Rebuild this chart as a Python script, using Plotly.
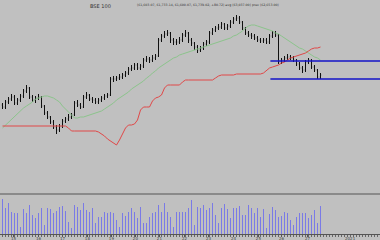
import plotly.graph_objects as go

# ---------------- data ----------------
idx = list(range(107))

opens = [535,533,538,541,543,537,540,544,549,552, 543,540,542,543,534,527,523,518,513,510,
         514,519,521,523,525,537,535,533,543,545, 541,540,538,540,542,544,545,561,561,562,
         563,565,567,571,572,575,572,574,580,581, 580,582,584,600,604,606,607,600,598,598,
         600,605,607,600,597,593,590,592,596,598, 607,610,612,613,616,612,614,618,621,622,
         618,612,607,605,604,602,600,599,600,598, 604,607,605,578,580,582,583,582,580,576,
         572,570,578,580,573,570,563]
closes = [533,538,541,543,537,540,544,549,552,543, 540,542,543,534,527,523,518,513,510,514,
          519,521,523,525,537,535,533,543,545,541, 540,538,540,542,544,545,561,561,562,563,
          565,567,571,572,575,572,574,580,581,580, 582,584,600,604,606,607,600,598,598,600,
          605,607,600,597,593,590,592,596,598,607, 610,612,613,616,612,614,618,621,622,618,
          612,607,605,604,602,600,599,600,598,604, 607,605,578,580,582,583,582,580,576,572,
          570,578,580,573,570,563,565]
highs = [537,540,543,546,545,542,546,551,555,553, 545,544,546,544,535,529,524,520,515,516,
         521,523,526,527,539,540,537,545,548,546, 543,542,542,544,546,547,563,564,564,566,
         567,569,573,575,577,577,576,582,584,583, 585,586,602,606,609,610,608,602,601,603,
         607,610,608,602,598,595,594,598,600,609, 612,614,616,618,617,616,620,623,625,624,
         619,613,609,607,606,604,602,602,602,606, 609,609,606,582,584,586,585,584,581,578,
         574,580,582,581,575,571,567]
lows = [531,531,536,539,535,535,538,542,547,541, 538,537,540,532,525,521,516,511,506,508,
        512,517,519,521,524,533,531,532,541,539, 537,536,536,538,540,542,544,558,559,560,
        561,563,565,569,570,570,570,572,578,577, 578,580,583,598,602,604,597,595,595,596,
        598,603,597,594,590,587,588,590,594,596, 605,608,610,611,610,610,612,616,619,616,
        610,605,603,601,600,598,597,597,596,596, 602,603,576,576,578,580,580,578,574,570,
        567,568,576,571,568,561,561]

ma = [512,515,518,521,524,527,529,532,534,536, 538,541,542,543,544,544,543,542,540,538,
      534,531,527,524,522,522,523,523,524,525, 526,527,528,529,531,533,535,537,540,542,
      544,546,548,551,553,555,557,559,562,564, 567,569,572,574,576,578,580,582,583,585,
      586,587,588,589,590,591,592,593,594,595, 596,597,598,599,600,601,602,604,605,607,
      609,612,614,615,615,614,613,612,611,610, 609,607,606,604,602,600,598,596,594,592,
      591,589,587,585,583,582,580]

stop = [514,514,514,514,514,514,514,514,514,514, 514,514,514,514,514,514,514,514,514,514,
        514,514,512,509,509,509,509,509,509,509, 509,509,508,506,504,501,499,497,495,500,
        506,512,515,515,516,520,530,533,533,533, 539,542,543,545,552,555,555,555,555,555,
        558,560,560,560,560,560,560,560,560,560, 560,562,564,565,565,565,565,565,566,566,
        566,566,566,566,566,566,566,567,570,572, 573,574,575,577,578,580,582,583,584,585,
        586,587,589,591,592,592,593]

volume = [35,26,31,22,21,21,7,25,21,29, 19,16,21,26,9,26,25,21,23,27,
          28,23,12,6,29,27,24,31,24,22, 26,11,17,17,22,21,22,21,14,7,
          21,18,22,26,22,16,27,11,11,17, 21,22,29,22,31,22,17,7,22,22,
          22,22,26,34,9,27,26,29,24,26, 31,19,11,26,30,25,16,26,26,28,
          19,19,29,26,21,26,17,25,6,20, 27,24,17,18,22,21,14,9,17,21,
          21,21,16,19,24,11,28]

levels = [579, 561]
level_start = 89.3

tick_pos = [3.7, 12, 20, 28.3, 36.3, 44.3, 52.3, 60.7, 68.7, 77, 85.3, 93, 101.7]
tick_text = ["15", "16", "17", "18", "19", "20", "21", "22", "23", "24", "25", "26", "27"]
year_pos = 116
year_text = "2021"

title_left = "BSE 100"
title_right = "(61,603.07, 61,733.14, 61,600.07, 61,739.02, +80.72) avg (63,037.00) prev (62,653.00)"

# ---------------- figure ----------------
BG = "#c0c0c0"
XR = [-0.8333, 125.8333]
fig = go.Figure()

fig.add_trace(go.Scatter(x=idx, y=ma, mode="lines",
                         line=dict(color="#8cc48c", width=1), xaxis="x", yaxis="y"))
fig.add_trace(go.Scatter(x=idx, y=stop, mode="lines",
                         line=dict(color="#e04848", width=1), xaxis="x", yaxis="y"))
for lv in levels:
    fig.add_trace(go.Scatter(x=[level_start, XR[1]], y=[lv, lv], mode="lines",
                             line=dict(color="#1414c8", width=1.6), xaxis="x", yaxis="y"))
fig.add_trace(go.Ohlc(x=idx, open=opens, high=highs, low=lows, close=closes,
                      increasing=dict(line=dict(color="#111111", width=1)),
                      decreasing=dict(line=dict(color="#111111", width=1)),
                      tickwidth=0.22, xaxis="x", yaxis="y"))
fig.add_trace(go.Bar(x=idx, y=volume, marker=dict(color="#7a7ae6", line=dict(width=0)),
                     width=0.3, xaxis="x2", yaxis="y2"))

fig.update_layout(
    width=380, height=240,
    margin=dict(l=0, r=0, t=0, b=0, autoexpand=False),
    paper_bgcolor=BG, plot_bgcolor=BG,
    showlegend=False,
    xaxis=dict(domain=[0, 1], range=XR, anchor="y", automargin=False,
               showticklabels=False, showgrid=False, zeroline=False,
               rangeslider=dict(visible=False), ticks=""),
    yaxis=dict(domain=[1 - 193 / 240, 1], range=[447, 640], anchor="x", automargin=False,
               showticklabels=False, showgrid=False, zeroline=False, ticks=""),
    xaxis2=dict(domain=[0, 1], range=XR, anchor="y2", matches="x", automargin=False,
                showgrid=False, zeroline=False, showline=True, linecolor="#555555",
                linewidth=1, ticks="outside", ticklen=2, tickcolor="#555555",
                tickvals=tick_pos, ticktext=tick_text, ticklabelstandoff=-2,
                tickfont=dict(size=4, color="#444444", family="DejaVu Sans"),
                minor=dict(ticks="outside", ticklen=2, tickcolor="#666666", dtick=1, tick0=0),
                rangeslider=dict(visible=False)),
    yaxis2=dict(domain=[1 - 234 / 240, 1 - 194 / 240], range=[0, 40], anchor="x2",
                automargin=False,
                showticklabels=False, showgrid=False, zeroline=False, ticks=""),
    bargap=0,
)

# separator between price and volume panes
fig.add_shape(type="line", xref="paper", yref="paper", x0=0, x1=1,
              y0=1 - 194 / 240, y1=1 - 194 / 240, line=dict(color="#555555", width=1))

fig.add_annotation(text=title_left, xref="paper", yref="paper", x=88 / 380, y=1 - 1 / 240,
                   xanchor="left", yanchor="top", showarrow=False,
                   font=dict(size=5, color="#333333", family="DejaVu Sans"))
fig.add_annotation(text=title_right, xref="paper", yref="paper", x=135 / 380, y=1 - 1 / 240,
                   xanchor="left", yanchor="top", showarrow=False,
                   font=dict(size=3.2, color="#333333", family="DejaVu Sans"))
fig.add_annotation(text=year_text, xref="x2", yref="paper", x=year_pos, y=1 - 234.5 / 240,
                   xanchor="center", yanchor="top", showarrow=False, borderpad=0,
                   font=dict(size=4, color="#444444", family="DejaVu Sans"))

fig.write_html("out.html")
